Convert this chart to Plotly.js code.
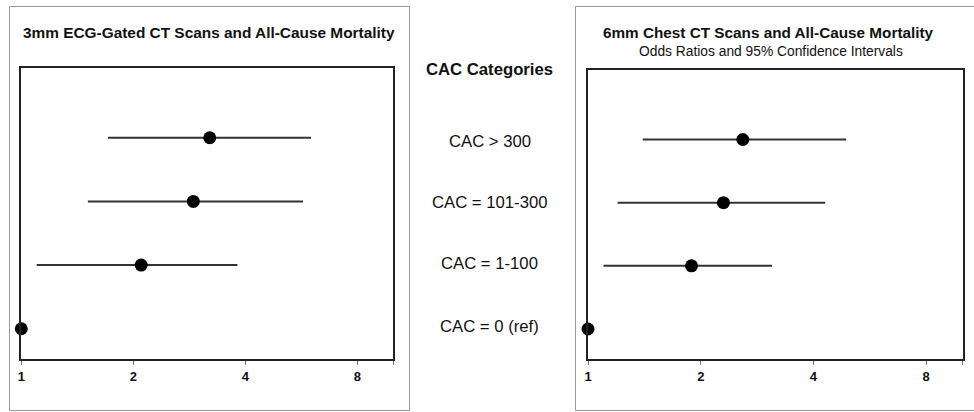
<!DOCTYPE html>
<html>
<head>
<meta charset="utf-8">
<script src="https://cdn.plot.ly/plotly-3.0.1.min.js"></script>
<style>
html,body{margin:0;padding:0;background:#fff;}
#chart{width:974px;height:412px;}
</style>
</head>
<body>
<div id="chart"></div>
<script>
// ---- Data ----
const categories = ['CAC = 0 (ref)', 'CAC = 1-100', 'CAC = 101-300', 'CAC > 300'];
const ecgOR = [1, 2.10, 2.90, 3.21];
const ecgLo = [1, 1.10, 1.51, 1.71];
const ecgHi = [1, 3.81, 5.72, 6.01];
const chestOR = [1, 1.89, 2.30, 2.59];
const chestLo = [1, 1.10, 1.20, 1.40];
const chestHi = [1, 3.10, 4.30, 4.89];
const tickVals = [1, 2, 4, 8, 10];
const tickText = ['1', '2', '4', '8', ''];

const W = 974, H = 412;
const px = x => x / W;
const py = y => 1 - y / H;
const FONT = 'Liberation Sans, Arial, sans-serif';
const labelShift = [0.03, 0.03, -0.01, -0.06];

function forestTrace(or, lo, hi, xa, ya) {
  return {
    type: 'scatter', mode: 'markers',
    x: or, y: categories.map((c, i) => i),
    xaxis: xa, yaxis: ya,
    cliponaxis: false,
    marker: {color: '#000', size: 13},
    error_x: {
      type: 'data', symmetric: false,
      array: hi.map((h, i) => h - or[i]),
      arrayminus: lo.map((l, i) => or[i] - l),
      width: 0, thickness: 2, color: '#333'
    },
    hoverinfo: 'x+y', showlegend: false
  };
}

const data = [
  forestTrace(ecgOR, ecgLo, ecgHi, 'x', 'y'),
  forestTrace(chestOR, chestLo, chestHi, 'x2', 'y2')
];

function xAxis(domain, anchor) {
  return {
    type: 'log', range: [0, 1], domain: domain, anchor: anchor,
    tickvals: tickVals, ticktext: tickText,
    ticks: 'outside', ticklen: 4, tickwidth: 1, tickcolor: '#777',
    showgrid: false, zeroline: false,
    showline: true, mirror: true, linecolor: '#222', linewidth: 2,
    tickfont: {family: FONT, size: 13, color: '#111', weight: 'bold'},
    fixedrange: true
  };
}
function yAxis(domain, anchor) {
  return {
    range: [-0.48, 4.1], domain: domain, anchor: anchor,
    showticklabels: false, ticks: '', showgrid: false, zeroline: false,
    showline: true, mirror: true, linecolor: '#222', linewidth: 2,
    fixedrange: true
  };
}

const annotations = [
  {text: '<b>3mm ECG-Gated CT Scans and All-Cause Mortality</b>', x: px(208.5), y: py(33),
   font: {size: 15.4}},
  {text: '<b>6mm Chest CT Scans and All-Cause Mortality</b>', x: px(768), y: py(33),
   font: {size: 15.3}},
  {text: 'Odds Ratios and 95% Confidence Intervals', x: px(770.5), y: py(52),
   font: {size: 13.8}},
  {text: '<b>CAC Categories</b>', x: px(490), y: py(69), font: {size: 16.7}}
].map(a => Object.assign({xref: 'paper', yref: 'paper', showarrow: false,
  xanchor: 'center', yanchor: 'middle'}, a, {font: Object.assign({family: FONT, color: '#111'}, a.font)}));

categories.forEach((c, i) => {
  annotations.push({
    text: c, xref: 'paper', yref: 'y', x: px(490), y: i + labelShift[i],
    showarrow: false, xanchor: 'center', yanchor: 'middle',
    font: {family: FONT, size: 16.7, color: '#111'}
  });
});

const layout = {
  width: W, height: H,
  margin: {l: 0, r: 0, t: 0, b: 0},
  paper_bgcolor: '#fff', plot_bgcolor: '#fff',
  xaxis: xAxis([px(21.3), px(393.3)], 'y'),
  yaxis: yAxis([py(359.3), py(67.7)], 'x'),
  xaxis2: xAxis([px(588), px(962.5)], 'y2'),
  yaxis2: yAxis([py(359.3), py(70)], 'x2'),
  annotations: annotations,
  shapes: [
    {type: 'rect', xref: 'paper', yref: 'paper', x0: px(9.5), x1: px(409.5), y0: py(410.5), y1: py(6.5),
     line: {color: '#999', width: 1}},
    {type: 'rect', xref: 'paper', yref: 'paper', x0: px(575.5), x1: px(980), y0: py(410.5), y1: py(6.5),
     line: {color: '#999', width: 1}}
  ]
};

Plotly.newPlot('chart', data, layout, {displayModeBar: false, staticPlot: true});
</script>
</body>
</html>
